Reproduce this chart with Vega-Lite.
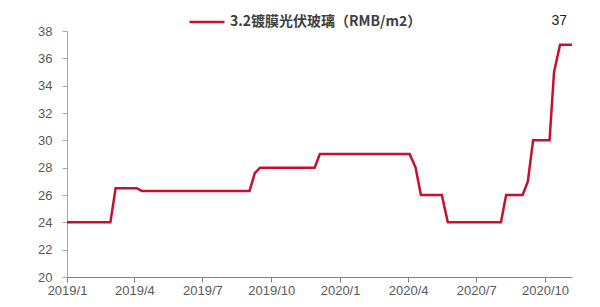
{
  "$schema": "https://vega.github.io/schema/vega-lite/v6.json",
  "width": 505,
  "height": 246,
  "autosize": {"type": "none"},
  "padding": {"left": 67, "top": 31, "right": 28, "bottom": 30},
  "background": "white",
  "data": {"values": [
    {"date": "2019/01/01", "value": 24},
    {"date": "2019/02/28", "value": 24},
    {"date": "2019/03/07", "value": 26.5},
    {"date": "2019/04/04", "value": 26.5},
    {"date": "2019/04/11", "value": 26.3},
    {"date": "2019/09/02", "value": 26.3},
    {"date": "2019/09/09", "value": 27.6},
    {"date": "2019/09/16", "value": 28},
    {"date": "2019/11/28", "value": 28},
    {"date": "2019/12/05", "value": 29},
    {"date": "2020/04/03", "value": 29},
    {"date": "2020/04/11", "value": 28},
    {"date": "2020/04/18", "value": 26},
    {"date": "2020/05/16", "value": 26},
    {"date": "2020/05/24", "value": 24},
    {"date": "2020/08/03", "value": 24},
    {"date": "2020/08/10", "value": 26},
    {"date": "2020/09/01", "value": 26},
    {"date": "2020/09/08", "value": 27},
    {"date": "2020/09/15", "value": 30},
    {"date": "2020/10/07", "value": 30},
    {"date": "2020/10/13", "value": 35},
    {"date": "2020/10/21", "value": 37},
    {"date": "2020/11/06", "value": 37}
  ]},
  "encoding": {
    "x": {
      "field": "date", "type": "temporal",
      "scale": {"domain": [{"year": 2019, "month": 1, "date": 1}, {"year": 2020, "month": 11, "date": 6}]},
      "axis": {
        "title": null,
        "format": "%Y/%-m",
        "values": [
          {"year": 2019, "month": 1, "date": 1},
          {"year": 2019, "month": 4, "date": 1},
          {"year": 2019, "month": 7, "date": 1},
          {"year": 2019, "month": 10, "date": 1},
          {"year": 2020, "month": 1, "date": 1},
          {"year": 2020, "month": 4, "date": 1},
          {"year": 2020, "month": 7, "date": 1},
          {"year": 2020, "month": 10, "date": 1}
        ],
        "domainColor": "#808080", "tickColor": "#808080", "tickSize": 5,
        "labelColor": "#595959", "labelFont": "Liberation Sans", "labelFontSize": 13,
        "labelPadding": 2, "labelFlush": false, "labelOverlap": false
      }
    },
    "y": {
      "field": "value", "type": "quantitative",
      "scale": {"domain": [20, 38], "nice": false, "zero": false},
      "axis": {
        "title": null, "values": [20, 22, 24, 26, 28, 30, 32, 34, 36, 38],
        "domainColor": "#A6A6A6", "tickColor": "#A6A6A6", "tickSize": 5,
        "labelColor": "#595959", "labelFont": "Liberation Sans", "labelFontSize": 13,
        "labelPadding": 10, "labelOverlap": false, "labelFlush": false
      }
    }
  },
  "layer": [
    {
      "mark": {"type": "line", "strokeWidth": 2.5, "interpolate": "linear"},
      "encoding": {
        "color": {
          "datum": "3.2镀膜光伏玻璃（RMB/m2）",
          "scale": {"range": ["#C8102E"]},
          "legend": {
            "title": null, "orient": "none", "legendX": 121, "legendY": -28,
            "symbolType": "stroke", "symbolSize": 1225, "symbolStrokeWidth": 2.5,
            "labelFont": "Noto Sans CJK SC", "labelFontSize": 14, "labelFontWeight": "bold",
            "labelColor": "#404040", "labelOffset": 4, "labelLimit": 400
          }
        }
      }
    },
    {
      "transform": [{"filter": "time(datum.date) == time(datetime(2020, 10, 6))"}],
      "mark": {"type": "text", "align": "right", "baseline": "middle", "dx": -5, "dy": -24, "font": "Liberation Sans", "fontSize": 14, "color": "#222222"},
      "encoding": {
        "text": {"field": "value", "type": "quantitative"}
      }
    }
  ],
  "config": {"view": {"stroke": null}, "axis": {"grid": false}}
}
